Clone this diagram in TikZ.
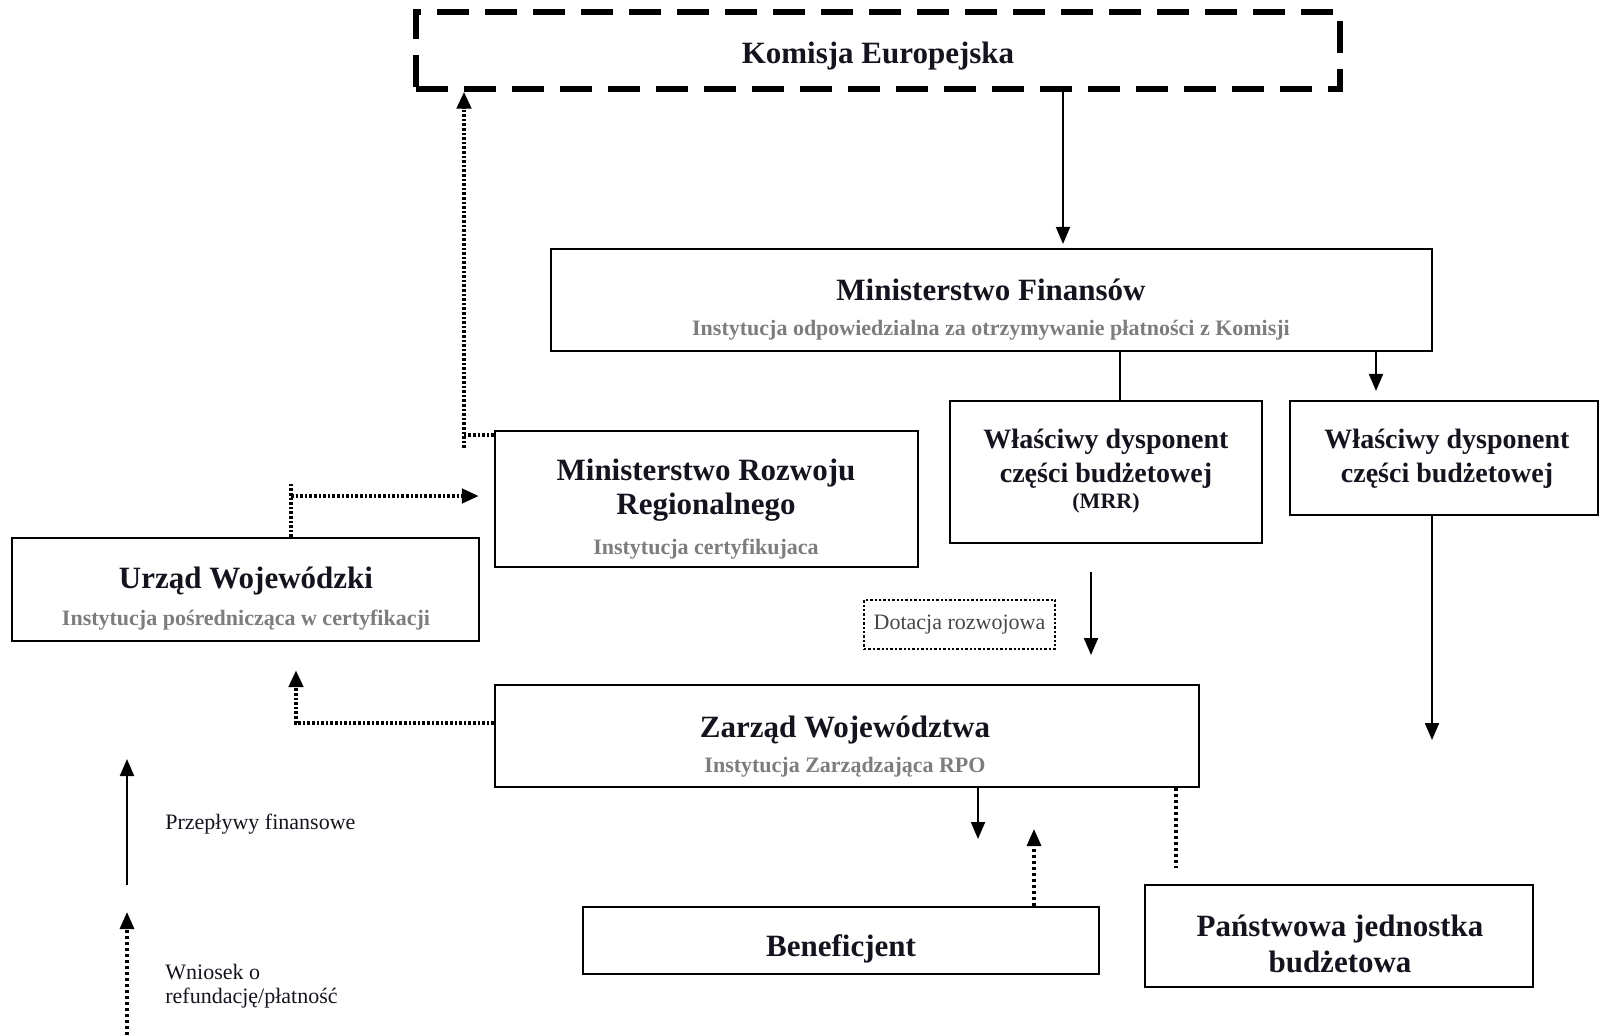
\documentclass[tikz,border=0pt]{standalone}
\usepackage{fontspec}
\setmainfont{Liberation Serif}
\usetikzlibrary{arrows.meta}
\definecolor{subgray}{RGB}{125,125,125}
\definecolor{titleink}{RGB}{20,20,30}
\definecolor{labelink}{RGB}{70,70,70}
\begin{document}
\begin{tikzpicture}[x=0.5pt,y=-0.5pt,
  box/.style 2 args={draw=black,line width=1.1pt,minimum width=#1*0.5pt,minimum height=#2*0.5pt,inner sep=0pt},
  kebox/.style={line width=2.6pt,dash pattern=on 16pt off 8pt},
  title/.style={font=\bfseries\fontsize{15.5}{17}\selectfont,text=titleink,inner sep=0pt},
  wtitle/.style={font=\bfseries\fontsize{14}{17}\selectfont,text=titleink,inner sep=0pt,align=center},
  sub/.style={font=\bfseries\fontsize{11}{13}\selectfont,text=subgray,inner sep=0pt},
  legend/.style={font=\fontsize{11}{12}\selectfont,text=titleink,inner sep=0pt},
  dotbox/.style={draw=black,line width=1.4pt,dash pattern=on 1.2pt off 1pt,minimum width=95.5pt,minimum height=24.5pt,inner sep=0pt,font=\fontsize{11}{13}\selectfont,text=labelink},
  tip/.style={-{Triangle[length=8.5pt,width=7pt]}},
  flow/.style={line width=1pt,tip},
  plain/.style={line width=1pt},
  heavydot/.style={line width=2.2pt,dash pattern=on 1.3pt off 1pt},
  lightdot/.style={line width=1.6pt,dash pattern=on 1.5pt off 1.5pt}
]
\useasboundingbox (0,0) rectangle (1601,1035);

% boxes
\node[box={924}{77},kebox] (KE) at (878,50.5) {};
\node[title] (KEt) at (878,56) {Komisja Europejska};

\node[box={881}{102}] (MF) at (991.5,300) {};
\node[title] (MFt) at (991,290) {Ministerstwo Finansów};
\node[sub] (MFs) at (991,330) {Instytucja odpowiedzialna za otrzymywanie płatności z Komisji};

\node[box={312}{142}] (WD1) at (1106,472) {};
\node[wtitle] (WD1t) at (1106,459) {Właściwy dysponent\\części budżetowej};
\node[font=\bfseries\fontsize{11}{13}\selectfont,text=titleink,inner sep=0pt] (WD1s) at (1106,503) {(MRR)};

\node[box={308}{114}] (WD2) at (1444,458) {};
\node[wtitle] (WD2t) at (1447,459) {Właściwy dysponent\\części budżetowej};

\node[box={423}{136}] (MRR) at (706.5,499) {};
\node[title,align=center] (MRRt) at (706,490) {Ministerstwo Rozwoju\\Regionalnego};
\node[sub] (MRRs) at (706,549) {Instytucja certyfikujaca};

\node[box={467}{103}] (UW) at (245.5,589.5) {};
\node[title] (UWt) at (246,581) {Urząd Wojewódzki};
\node[sub] (UWs) at (246,620) {Instytucja pośrednicząca w certyfikacji};

\node[dotbox] (DR) at (959.5,624.5) {Dotacja rozwojowa};

\node[box={704}{102}] (ZW) at (847,736) {};
\node[title] (ZWt) at (845,730) {Zarząd Województwa};
\node[sub] (ZWs) at (845,767) {Instytucja Zarządzająca RPO};

\node[box={516}{67}] (BEN) at (841,940.5) {};
\node[title] (BENt) at (841,949) {Beneficjent};

\node[box={388}{102}] (PJB) at (1339,936) {};
\node[title,align=center,font=\bfseries\fontsize{15.5}{18}\selectfont] (PJBt) at (1340,944) {Państwowa jednostka\\budżetowa};

% connectors
\coordinate (c1) at (1063,0);
\draw[flow,shorten >=2pt] (c1 |- KE.south) -- (c1 |- MF.north);
\coordinate (c2) at (1120,0);
\draw[plain] (c2 |- MF.south) -- (c2 |- WD1.north);
\coordinate (c3) at (1376,0);
\draw[flow,shorten >=4.5pt] (c3 |- MF.south) -- (c3 |- WD2.north);
\coordinate (c4) at (1432,740);
\draw[flow] (c4 |- WD2.south) -- (c4);

% MRR -> KE
\coordinate (k1) at (464,435);
\coordinate (k2) at (464,448);
\draw[heavydot] (MRR.west |- k1) -- (k1);
\draw[heavydot,tip] (k2) -- (k2 |- KE.south);

% UW -> MRR
\coordinate (u1) at (291,484);
\coordinate (u2) at (291,496);
\draw[heavydot] (UW.north -| u1) -- (u1);
\draw[heavydot,tip,shorten >=7.5pt] (u2) -- (u2 -| MRR.west);

% ZW -> UW
\coordinate (z1) at (296,723);
\draw[heavydot,tip,shorten >=14pt] (ZW.west |- z1) -- (z1) -- (z1 |- UW.south);

% WD1 -> ZW
\coordinate (d1) at (1091,572);
\coordinate (d2) at (1091,655);
\draw[flow] (d1) -- (d2);

% ZW -> BEN and back
\coordinate (b1) at (978,839);
\draw[flow] (b1 |- ZW.south) -- (b1);
\coordinate (b2) at (1034,829);
\draw[lightdot,tip] (BEN.north -| b2) -- (b2);

% ZW -- PJB
\coordinate (p1) at (1176,868);
\draw[lightdot] (p1 |- ZW.south) -- (p1);

% legend
\coordinate (l1) at (127,885);
\coordinate (l2) at (127,759);
\draw[flow] (l1) -- (l2);
\coordinate (l3) at (127,1035);
\coordinate (l4) at (127,912);
\draw[lightdot,tip] (l3) -- (l4);
\node[legend,anchor=west] (L1) at (165,824) {Przepływy finansowe};
\node[legend,anchor=west,align=left] (L2) at (165,986) {Wniosek o\\refundację/płatność};
\end{tikzpicture}
\end{document}
